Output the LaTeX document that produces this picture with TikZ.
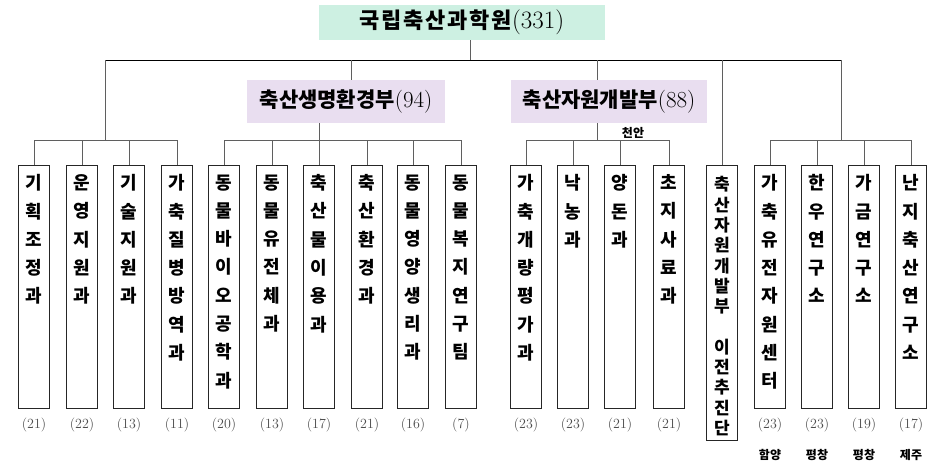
\documentclass[tikz,border=0pt]{standalone}
\usepackage{fontspec}
\usepackage{tikz}
\usetikzlibrary{calc,positioning}
\newfontfamily\kr{Noto Sans CJK KR}
\newfontfamily\krwide{Noto Sans CJK KR}[LetterSpace=8]
\definecolor{headgreen}{RGB}{205,240,226}
\definecolor{deptpurple}{RGB}{233,222,240}
\definecolor{linegray}{RGB}{95,95,95}
\newcommand{\unitcol}[1]{\parbox[t][243pt][t]{31pt}{\centering\kr\bfseries\fontsize{18}{28.3}\selectfont\vspace*{9pt}#1}}

\begin{document}
\begin{tikzpicture}[x=1pt,y=-1pt,
  headbox/.style={fill=headgreen, minimum width=286, minimum height=35, inner sep=0pt,
    font=\krwide\bfseries\fontsize{22}{22}\selectfont},
  deptbox/.style={fill=deptpurple, minimum height=43, inner sep=0pt,
    font=\kr\bfseries\fontsize{21}{21}\selectfont},
  unitbox/.style={draw=black!85, line width=1.1pt, inner sep=0pt, anchor=north},
  cnt/.style={font=\fontsize{14}{14}\selectfont, text=black!70},
  loc/.style={font=\kr\bfseries\fontsize{12}{12}\selectfont},
  conn/.style={draw=linegray, line width=0.9pt}]
\useasboundingbox (0,0) rectangle (943,466);
\pgfmathsetmacro{\topy}{60}
\pgfmathsetmacro{\busy}{140}

\node[headbox] (top) at (462,22.5) {국립축산과학원{\rmfamily\mdseries\fontsize{25}{25}\selectfont(331)}};
\node[deptbox, minimum width=198] (d1) at (346,101.5) {축산생명환경부{\rmfamily\mdseries\fontsize{23}{23}\selectfont(94)}};
\node[deptbox, minimum width=196] (d2) at (609,101.5) {축산자원개발부{\rmfamily\mdseries\fontsize{23}{23}\selectfont(88)}};

\foreach \name/\xc/\txt/\num in {
  b1/34/{기\\획\\조\\정\\과}/21,
  b2/82/{운\\영\\지\\원\\과}/22,
  b3/129/{기\\술\\지\\원\\과}/13,
  b4/177/{가\\축\\질\\병\\방\\역\\과}/11,
  b5/224/{동\\물\\바\\이\\오\\공\\학\\과}/20,
  b6/272/{동\\물\\유\\전\\체\\과}/13,
  b7/319/{축\\산\\물\\이\\용\\과}/17,
  b8/367/{축\\산\\환\\경\\과}/21,
  b9/413/{동\\물\\영\\양\\생\\리\\과}/16,
  b10/461/{동\\물\\복\\지\\연\\구\\팀}/7,
  b11/526/{가\\축\\개\\량\\평\\가\\과}/23,
  b12/573/{낙\\농\\과}/23,
  b13/620/{양\\돈\\과}/21,
  b14/669/{초\\지\\사\\료\\과}/21,
  b16/770/{가\\축\\유\\전\\자\\원\\센\\터}/23,
  b17/817/{한\\우\\연\\구\\소}/23,
  b18/864/{가\\금\\연\\구\\소}/19,
  b19/911/{난\\지\\축\\산\\연\\구\\소}/17}{
  \node[unitbox] (\name) at (\xc,165) {\unitcol{\txt}};
  \node[cnt] (\name-n) at (\xc,425) {(\num)};
}
\node[unitbox] (b15) at (722,165) {\parbox[t][275pt][t]{31pt}{\centering\kr\bfseries\fontsize{17}{20.3}\selectfont\vspace*{11pt}축\\산\\자\\원\\개\\발\\부\\[20.3pt]이\\전\\추\\진\\단}};

\node[loc] (cheonan) at (633,133) {천안};
\node[loc] (hamyang) at (770,455) {함양};
\node[loc] (pc1) at (817,455) {평창};
\node[loc] (pc2) at (864,455) {평창};
\node[loc] (jeju) at (911,455) {제주};

% top level line and drops
\coordinate (j1) at (105,\topy);
\coordinate (j5) at (841,\topy);
\draw[line width=0.9pt] (j1) -- (j5);
\draw[conn] (top.south -| 470,0) -- (470,\topy);
\draw[conn] (j1) -- (105,\busy);
\draw[conn] (351,\topy) -- (d1.north -| 351,0);
\draw[conn] (597,\topy) -- (d2.north -| 597,0);
\draw[conn] (722,\topy) -- (b15.north);
\draw[conn] (j5) -- (841,\busy);
\draw[conn] (d1.south -| b7.north) -- (b7.north);
\draw[conn] (d2.south -| 597,0) -- (597,\busy);

\draw[conn] (b1.north |- 0,\busy) -- (b4.north |- 0,\busy);
\draw[conn] (b5.north |- 0,\busy) -- (b10.north |- 0,\busy);
\draw[conn] (b11.north |- 0,\busy) -- (b14.north |- 0,\busy);
\draw[conn] (b16.north |- 0,\busy) -- (b19.north |- 0,\busy);
\foreach \b in {b1,b2,b3,b4,b5,b6,b8,b9,b10,b11,b12,b13,b14,b16,b17,b18,b19}
  \draw[conn] (\b.north |- 0,\busy) -- (\b.north);
\end{tikzpicture}
\end{document}
